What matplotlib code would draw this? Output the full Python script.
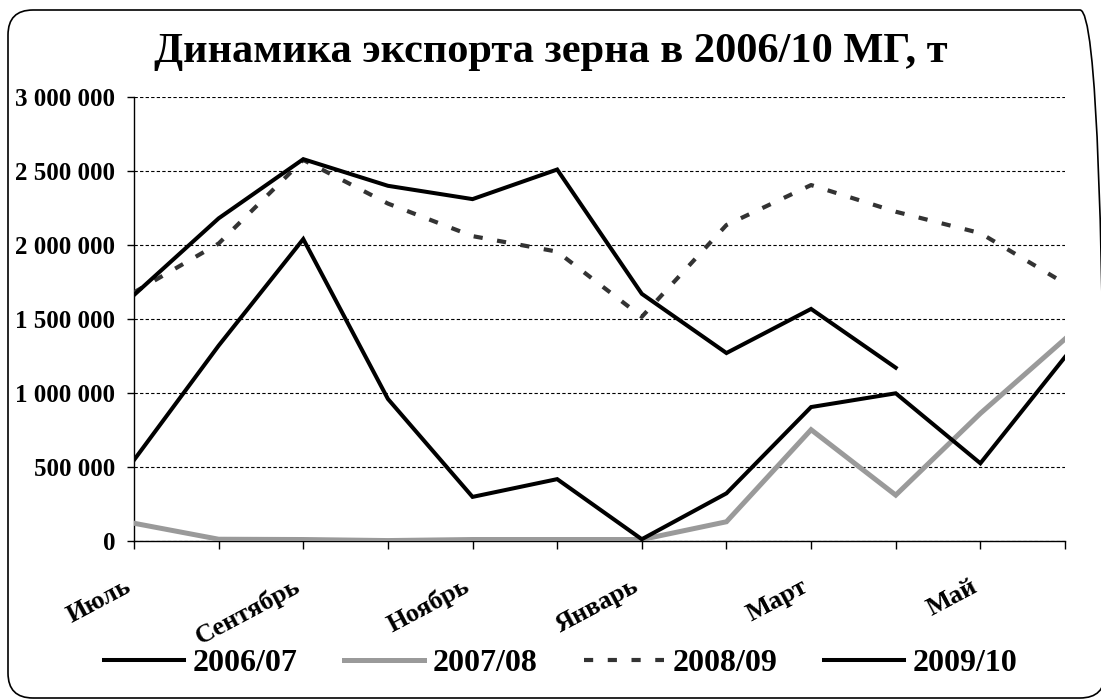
import numpy as np
import matplotlib
matplotlib.use("Agg")
import matplotlib.pyplot as plt
from matplotlib.patches import FancyBboxPatch
from matplotlib.ticker import FuncFormatter

months = ["Июль", "Август", "Сентябрь", "Октябрь", "Ноябрь", "Декабрь",
          "Январь", "Февраль", "Март", "Апрель", "Май", "Июнь"]

# export, t
s2006 = [547000, 1320000, 2040000, 960000, 298000, 418000,
         12000, 322000, 905000, 998000, 525000, 1243000]
s2007 = [120000, 12000, 10000, 3000, 10000, 10000,
         10000, 130000, 752000, 310000, 862000, 1365000]
s2008 = [1680000, 2010000, 2575000, 2280000, 2060000, 1955000,
         1515000, 2135000, 2405000, 2225000, 2080000, 1740000]
s2009 = [1662000, 2180000, 2580000, 2400000, 2310000, 2510000,
         1670000, 1270000, 1568000, 1171000]

plt.rcParams['font.family'] = ['Liberation Serif', 'DejaVu Serif']
plt.rcParams['font.weight'] = 'bold'

fig = plt.figure(figsize=(11.01, 6.99), dpi=100)
ax = fig.add_axes([134 / 1101, 1 - 541 / 699, (1065 - 134) / 1101, (541 - 97) / 699])

x = np.arange(len(months))

ax.plot(x, s2006, color='black', lw=2.9, solid_joinstyle='miter', label='2006/07', zorder=4)
ax.plot(x, s2007, color='#9a9a9a', lw=3.6, solid_joinstyle='miter', label='2007/08', zorder=3)
ax.plot(x, s2008, color='#333333', lw=3.0, dashes=(2.2, 3.5), label='2008/09', zorder=3)
ax.plot(x[:len(s2009)], s2009, color='black', lw=2.9, solid_joinstyle='miter', label='2009/10', zorder=4)

ax.set_xlim(0, 11)
ax.set_ylim(0, 3000000)
ax.set_yticks(np.arange(0, 3000001, 500000))
ax.yaxis.set_major_formatter(FuncFormatter(lambda v, p: f"{int(v):,}".replace(",", " ")))
ax.set_xticks(x)
ax.set_xticklabels([])

# month names every other tick, slightly left of and below the tick
for i, m in enumerate(months):
    if i % 2 == 0:
        ax.annotate(m, xy=(i, 0), xycoords=('data', 'axes fraction'),
                    xytext=(-3.6, -31.7), textcoords='offset points',
                    rotation=28, ha='right', va='center', rotation_mode='anchor',
                    fontsize=19, fontweight='bold', annotation_clip=False)

ax.tick_params(axis='y', length=5, width=1, pad=8.6, labelsize=18)
ax.tick_params(axis='x', length=5.8, width=1)

for sp in ['top', 'right']:
    ax.spines[sp].set_visible(False)
ax.spines['left'].set_linewidth(1)
ax.spines['bottom'].set_linewidth(1)

ax.grid(axis='y', color='black', lw=0.8, linestyle=(0, (3, 2)))
ax.set_axisbelow(True)

fig.text(0.5, 1 - 62 / 699, "Динамика экспорта зерна в 2006/10 МГ, т",
         ha='center', va='baseline', fontsize=30.5, fontweight='bold')

fig.legend(loc='center', bbox_to_anchor=(561 / 1101, 1 - 663 / 699), ncol=4,
           frameon=False, fontsize=23, handlelength=2.5, handletextpad=0.28,
           columnspacing=1.45)

border = FancyBboxPatch((0.08, 0.01), 10.97, 6.88,
                        boxstyle="round,pad=0,rounding_size=0.25",
                        transform=fig.dpi_scale_trans, fill=False,
                        edgecolor='black', lw=1.2)
fig.patches.append(border)

fig.savefig("out.png", dpi=100)
